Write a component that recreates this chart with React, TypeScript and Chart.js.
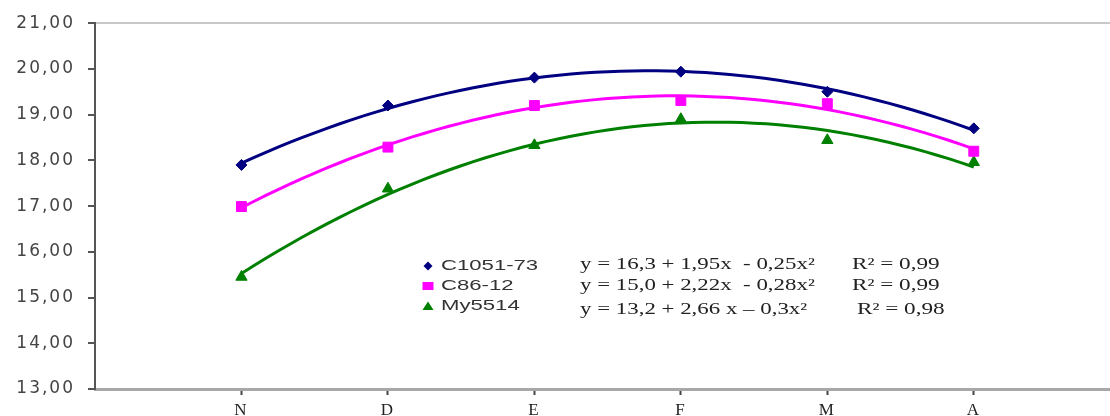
import React, { useEffect, useRef } from 'react';
import { Chart, registerables } from 'chart.js';

Chart.register(...registerables);

// ---- data ----
const categories = ['N', 'D', 'E', 'F', 'M', 'A'];
const seriesNames = ['C1051-73', 'C86-12', 'My5514'];
const c1051Values = [17.9, 19.2, 19.81, 19.94, 19.5, 18.7];
const c8612Values = [16.99, 18.29, 19.2, 19.31, 19.24, 18.2];
const my5514Values = [15.45, 17.38, 18.33, 18.9, 18.44, 17.96];
const equations = ['y = 16,3 + 1,95x  - 0,25x²', 'y = 15,0 + 2,22x  - 0,28x²', 'y = 13,2 + 2,66 x – 0,3x²'];
const r2Labels = ['R² = 0,99', 'R² = 0,99', 'R² = 0,98'];
const yMin = 13;
const yMax = 21;

const seriesValues = [c1051Values, c8612Values, my5514Values];
const seriesColors = ['#000080', '#ff00ff', '#008000'];
const seriesPointStyles = ['rectRot', 'rect', 'triangle'];
const seriesPointRadius = [5.5, 7, 6.5];

// least-squares quadratic fit (Excel-style polynomial trendline)
function fitQuadratic(xs: number[], ys: number[]): [number, number, number] {
  let s0 = 0, s1 = 0, s2 = 0, s3 = 0, s4 = 0, t0 = 0, t1 = 0, t2 = 0;
  for (let i = 0; i < xs.length; i++) {
    const x = xs[i], y = ys[i];
    s0 += 1; s1 += x; s2 += x * x; s3 += x * x * x; s4 += x * x * x * x;
    t0 += y; t1 += x * y; t2 += x * x * y;
  }
  const M = [
    [s0, s1, s2, t0],
    [s1, s2, s3, t1],
    [s2, s3, s4, t2],
  ];
  for (let c = 0; c < 3; c++) {
    let p = c;
    for (let r = c + 1; r < 3; r++) if (Math.abs(M[r][c]) > Math.abs(M[p][c])) p = r;
    [M[c], M[p]] = [M[p], M[c]];
    for (let r = 0; r < 3; r++) {
      if (r === c) continue;
      const f = M[r][c] / M[c][c];
      for (let k = c; k < 4; k++) M[r][k] -= f * M[c][k];
    }
  }
  return [M[0][3] / M[0][0], M[1][3] / M[1][1], M[2][3] / M[2][2]];
}

const xPositions = categories.map((_, i) => i + 1);

function buildDatasets() {
  const markers = seriesValues.map((vals, s) => ({
    label: seriesNames[s],
    data: vals.map((v, i) => ({ x: xPositions[i], y: v })),
    showLine: false,
    pointStyle: seriesPointStyles[s],
    pointRadius: seriesPointRadius[s],
    pointBackgroundColor: seriesColors[s],
    pointBorderColor: seriesColors[s],
    pointBorderWidth: 1,
    order: 0,
  }));
  const trends = seriesValues.map((vals, s) => {
    const [a, b, c] = fitQuadratic(xPositions, vals);
    const pts: { x: number; y: number }[] = [];
    const x0 = xPositions[0];
    const x1 = xPositions[xPositions.length - 1];
    const n = 60;
    for (let k = 0; k <= n; k++) {
      const x = x0 + ((x1 - x0) * k) / n;
      pts.push({ x, y: a + b * x + c * x * x });
    }
    return {
      label: seriesNames[s] + ' trend',
      data: pts,
      showLine: true,
      borderColor: seriesColors[s],
      borderWidth: 3,
      pointRadius: 0,
      tension: 0,
      order: 1,
    };
  });
  return [...trends, ...markers];
}

const spacingPlugin = {
  id: 'tickSpacing',
  beforeDraw(chart: any) {
    chart.ctx.letterSpacing = '2px';
  },
  beforeDatasetsDraw(chart: any) {
    chart.ctx.letterSpacing = '0px';
  },
};

const legendPlugin = {
  id: 'inlineLegend',
  afterDraw(chart: any) {
    const ctx: CanvasRenderingContext2D = chart.ctx;
    (ctx as any).letterSpacing = '0px';
    const markerX = 428;
    const labelX = 441;
    const legendRows = [266, 286, 306];
    const eqX = 580;
    const eqRows = [265, 286, 310];
    const r2X = [852, 852, 857];
    ctx.save();
    seriesNames.forEach((name, i) => {
      const y = legendRows[i];
      ctx.fillStyle = seriesColors[i];
      ctx.beginPath();
      if (i === 0) {
        ctx.moveTo(markerX, y - 4.5);
        ctx.lineTo(markerX + 4.5, y);
        ctx.lineTo(markerX, y + 4.5);
        ctx.lineTo(markerX - 4.5, y);
        ctx.closePath();
      } else if (i === 1) {
        ctx.rect(markerX - 5.5, y - 4, 11, 8);
      } else {
        ctx.moveTo(markerX, y - 4.5);
        ctx.lineTo(markerX + 5.5, y + 4);
        ctx.lineTo(markerX - 5.5, y + 4);
        ctx.closePath();
      }
      ctx.fill();

      ctx.textBaseline = 'middle';
      ctx.textAlign = 'left';
      ctx.fillStyle = '#333333';
      ctx.font = '14px "Liberation Sans", Arial, sans-serif';
      ctx.save();
      ctx.translate(labelX, y);
      ctx.scale(1.58, 1);
      ctx.fillText(name, 0, 0);
      ctx.restore();

      ctx.fillStyle = '#222222';
      ctx.font = '16px "Liberation Serif", "Times New Roman", serif';
      ctx.save();
      ctx.translate(eqX, eqRows[i]);
      ctx.scale(1.43, 1);
      ctx.fillText(equations[i], 0, 0);
      ctx.restore();

      ctx.save();
      ctx.translate(r2X[i], eqRows[i]);
      ctx.scale(1.45, 1);
      ctx.fillText(r2Labels[i], 0, 0);
      ctx.restore();
    });
    ctx.restore();
  },
};

export default function App() {
  const canvasRef = useRef<HTMLCanvasElement | null>(null);

  useEffect(() => {
    const canvas = canvasRef.current;
    if (!canvas) return;
    const chart = new Chart(canvas, {
      type: 'scatter',
      data: { datasets: buildDatasets() as any },
      options: {
        responsive: false,
        animation: false,
        devicePixelRatio: 1,
        layout: { autoPadding: false, padding: { top: 20, left: 0, right: 0, bottom: 0 } },
        plugins: {
          legend: { display: false },
          tooltip: { enabled: false },
        },
        scales: {
          x: {
            type: 'linear',
            min: 0,
            max: 6.93,
            afterBuildTicks: (scale: any) => {
              scale.ticks = xPositions.map((v) => ({ value: v }));
            },
            afterFit: (scale: any) => {
              scale.height = 27;
            },
            ticks: {
              autoSkip: false,
              maxRotation: 0,
              padding: 5,
              color: '#222222',
              font: { family: '"Liberation Serif", "Times New Roman", serif', size: 17 },
              callback: (v: any) => categories[Number(v) - 1] ?? '',
            },
            grid: {
              drawOnChartArea: false,
              drawTicks: true,
              tickLength: 6,
              tickColor: '#444444',
              tickWidth: 2,
            },
            border: { display: true, color: '#a8a8a8', width: 3 },
          },
          y: {
            type: 'linear',
            min: yMin,
            max: yMax,
            afterFit: (scale: any) => {
              scale.width = 95;
            },
            ticks: {
              stepSize: 1,
              padding: 13,
              color: '#444444',
              font: { family: '"DejaVu Sans", Verdana, sans-serif', size: 17 },
              callback: (v: any) => Number(v).toFixed(2).replace('.', ','),
            },
            grid: {
              drawOnChartArea: true,
              color: (ctx: any) => (ctx.tick && ctx.tick.value === yMax ? '#c8c8c8' : 'rgba(0,0,0,0)'),
              lineWidth: 2,
              drawTicks: true,
              tickLength: 7,
              tickColor: '#555555',
              tickWidth: 2,
            },
            border: { display: true, color: '#555555', width: 2 },
          },
        },
      },
      plugins: [spacingPlugin, legendPlugin],
    });
    return () => {
      chart.destroy();
    };
  }, []);

  return (
    <div style={{ position: 'absolute', left: 0, top: 0, width: 1110, height: 416, background: '#ffffff' }}>
      <canvas ref={canvasRef} width={1110} height={416} style={{ display: 'block', width: 1110, height: 416 }} />
    </div>
  );
}
